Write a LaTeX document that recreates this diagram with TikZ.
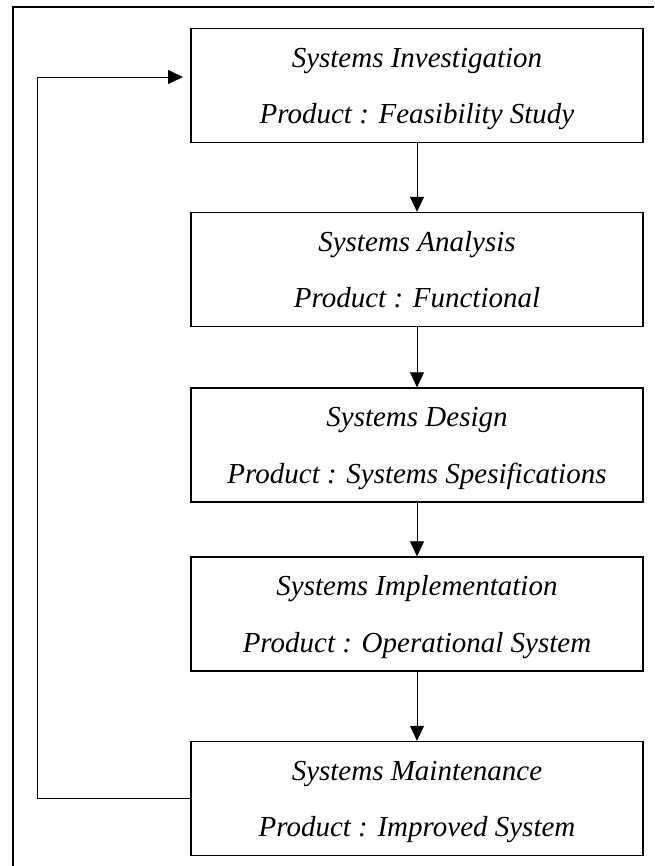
\documentclass[tikz,border=0pt]{standalone}
\usepackage{fontspec}
\setmainfont{Liberation Serif}
\usetikzlibrary{arrows.meta}
\newcommand{\tallrow}{\rule{0pt}{28pt}}

\begin{document}
\begin{tikzpicture}[x=1pt,y=-1pt,
  stage/.style={rectangle,draw,line width=1.4pt,minimum width=452pt,minimum height=114pt,
    align=center,font=\fontsize{29}{56.5}\selectfont\itshape,
    execute at end node=\rule[-8pt]{0pt}{8pt}},
  flow/.style={-{Triangle[length=15pt,width=14pt]},line width=0.8pt}]
\useasboundingbox (0,0) rectangle (654,866);
\clip (0,0) rectangle (654,866);
\draw [line width=1.7pt] (700,7) -- (13,7) -- (13,900);
\node (Inv) [stage] at (417,85.5) {\tallrow Systems Investigation\\Product : Feasibility Study};
\node (Ana) [stage] at (417,269.5) {\tallrow Systems Analysis\\Product : Functional};
\node (Des) [stage] at (417,445) {\tallrow Systems Design\\Product : Systems Spesifications};
\node (Imp) [stage] at (417,614) {\tallrow Systems Implementation\\Product : Operational System};
\node (Mnt) [stage] at (417,798.5) {\tallrow Systems Maintenance\\Product : Improved System};
\coordinate (Loop) at (37,77);
\coordinate (Back) at (183,77);
\draw [flow] (Inv) -- (Ana);
\draw [flow] (Ana) -- (Des);
\draw [flow] (Des) -- (Imp);
\draw [flow] (Imp) -- (Mnt);
\draw [flow] (Mnt.west) -| (Loop) -- (Back);
\end{tikzpicture}
\end{document}
